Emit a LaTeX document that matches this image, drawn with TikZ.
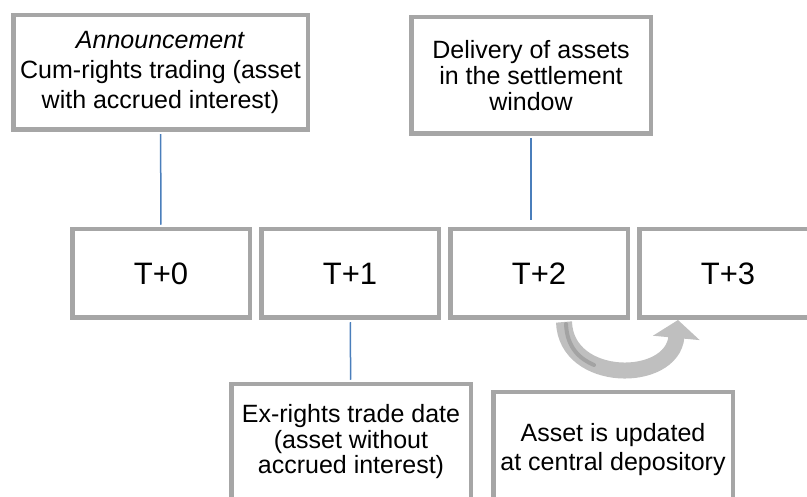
\documentclass[tikz,border=0pt]{standalone}
\usepackage{fontspec}
\setmainfont{Liberation Sans}
\usepackage{tikz}
\usetikzlibrary{arrows.meta}
\definecolor{boxgray}{HTML}{A6A6A6}
\definecolor{linkblue}{HTML}{4A7EBB}
\definecolor{arrowgray}{HTML}{BFBFBF}
\definecolor{shadegray}{HTML}{A3A3A3}
\tikzset{
  daybox/.style={draw=boxgray,line width=4.5pt,fill=white,inner sep=0pt,
    minimum width=177.5pt,minimum height=88.5pt,font=\fontsize{31}{36}\selectfont},
  notebox/.style={draw=boxgray,line width=4.5pt,fill=white,inner sep=0pt,align=center,
    minimum width=239.5pt,minimum height=115.5pt},
  link/.style={color=linkblue,line width=1.5pt,shorten <=2.25pt,shorten >=2.25pt},
  rollarrow/.style={draw=arrowgray,line width=16pt,-{Triangle[length=18pt,width=46pt]}},
  rollshade/.style={draw=shadegray,line width=4pt,line cap=round},
}
\begin{document}
\begin{tikzpicture}[x=1pt,y=-1pt,node distance=189pt,semithick]
	\useasboundingbox (0,0) rectangle (807,497);
	\clip (0,0) rectangle (807,497);
	\node[daybox] (t0) at (161,273.5) {T+0};
	\node[daybox] (t1) [right of=t0] {T+1};
	\node[daybox] (t2) [right of=t1] {T+2};
	\node[daybox] (t3) [right of=t2] {T+3};

	\node[notebox,minimum width=294.5pt,minimum height=114.5pt,font=\fontsize{25}{30}\selectfont] (a0) at (160.5,72.5) {\textit{Announcement}\\Cum-rights trading (asset\\with accrued interest)};
	\node[notebox,minimum height=116.5pt,font=\fontsize{25}{26}\selectfont] (d2) at (531,75.5) {Delivery of assets\\in the settlement\\window};
	\node[notebox,font=\fontsize{25}{25.5}\selectfont] (e1) at (351,442) {Ex-rights trade date\\(asset without\\accrued interest)};
	\node[notebox,font=\fontsize{25}{29}\selectfont] (u3) at (613,450) {Asset is updated\\at central depository};

	\path[link]
		(a0) edge (t0)
		(t1) edge (e1)
		(d2.south) edge [shorten >=7pt] (d2.south |- t2.north);

	\draw[rollarrow] ([xshift=25pt,yshift=-2pt]t2.south) .. controls +(2,62) and +(-6,64) .. ([xshift=-50pt]t3.south);
	\draw[rollshade] ([xshift=27pt,yshift=-4pt]t2.south) .. controls +(1,24) and +(-14,-6) .. +(28,41);
\end{tikzpicture}
\end{document}
